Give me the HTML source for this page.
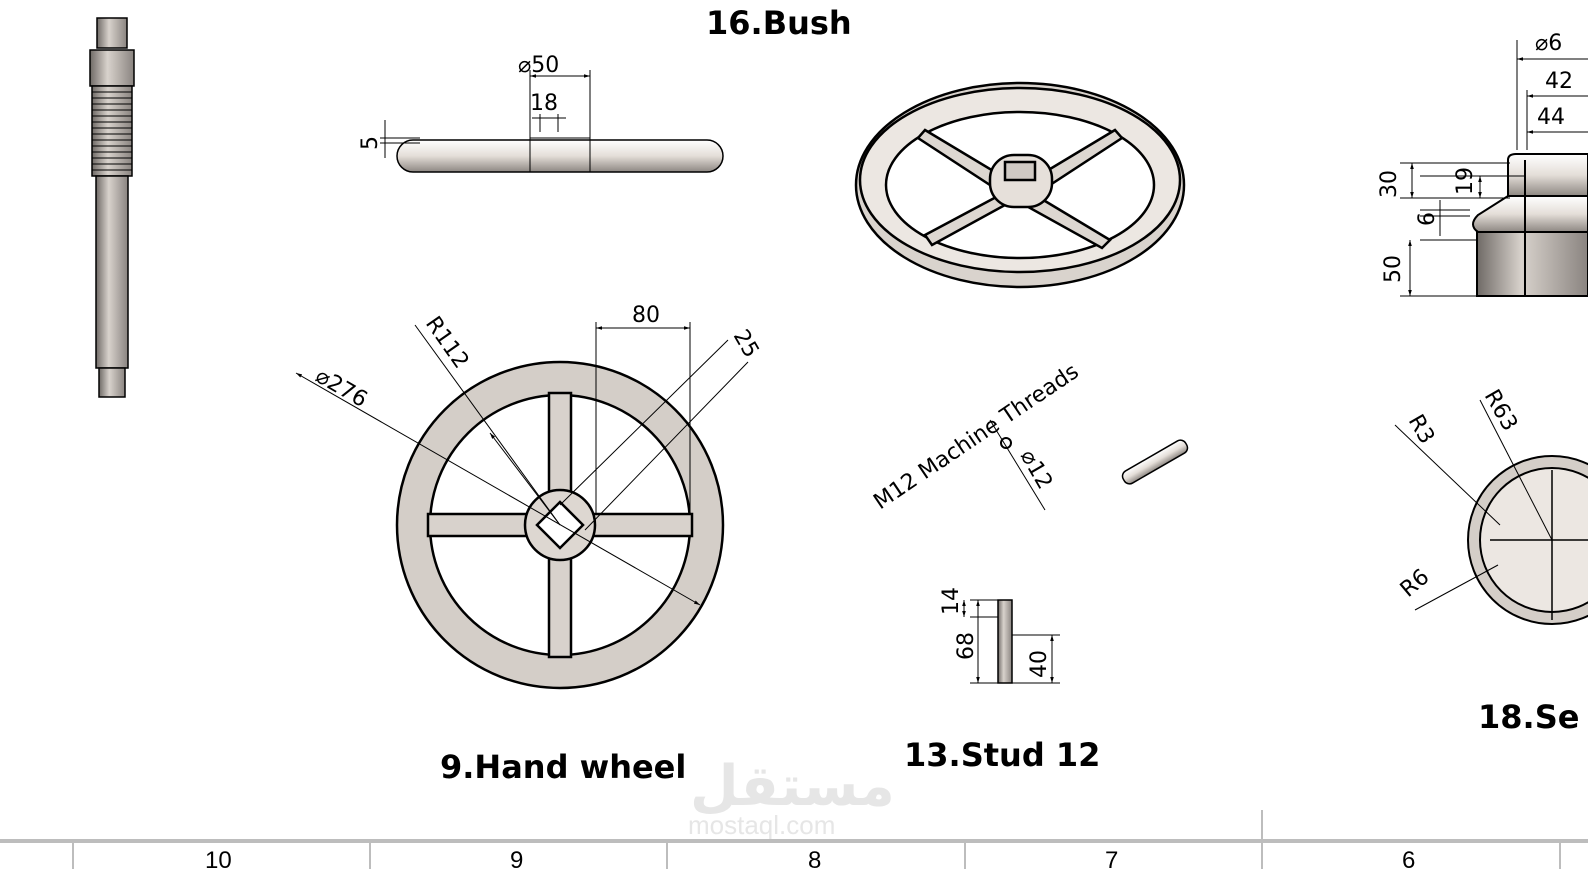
<!DOCTYPE html>
<html><head><meta charset="utf-8"><style>
html,body{margin:0;padding:0;background:#fff;overflow:hidden;width:1588px;height:869px;}
svg{display:block;position:absolute;left:0;top:0;}
.d{font-family:"DejaVu Sans","Liberation Sans",sans-serif;font-size:22px;fill:#000;}
.t{font-family:"DejaVu Sans","Liberation Sans",sans-serif;font-weight:bold;font-size:32px;fill:#000;}
</style></head><body>
<svg width="1588" height="869" viewBox="0 0 1588 869" xmlns="http://www.w3.org/2000/svg">
<defs>
<linearGradient id="gv" x1="0" x2="1" y1="0" y2="0"><stop offset="0" stop-color="#6f6a66"/><stop offset="0.4" stop-color="#d8d2cc"/><stop offset="1" stop-color="#8a8480"/></linearGradient>
<linearGradient id="gh" x1="0" x2="0" y1="0" y2="1"><stop offset="0" stop-color="#fff"/><stop offset="0.5" stop-color="#e4ded8"/><stop offset="1" stop-color="#8d8782"/></linearGradient>
<marker id="a" viewBox="0 0 10 10" refX="10" refY="5" markerWidth="10" markerHeight="6" orient="auto-start-reverse"><path d="M0,2 L10,5 L0,8z" fill="#000"/></marker>
</defs>
<g stroke="#000" stroke-width="1.5">
<rect x="97" y="18" width="30" height="30" fill="url(#gv)"/>
<rect x="90" y="50" width="44" height="36" fill="url(#gv)"/>
<rect x="92" y="86" width="40" height="90" fill="url(#gv)"/>
<g stroke-width="1">
<path d="M92 92h40M92 98h40M92 104h40M92 110h40M92 116h40M92 122h40M92 128h40M92 134h40M92 140h40M92 146h40M92 152h40M92 158h40M92 164h40M92 170h40"/></g>
<rect x="96" y="176" width="32" height="192" fill="url(#gv)"/>
<rect x="99" y="368" width="26" height="29" fill="url(#gv)"/>
<rect x="397" y="140" width="326" height="32" rx="16" fill="url(#gh)"/>
<rect x="530" y="138" width="60" height="34" fill="none" stroke-width="1"/>
</g>
<g stroke="#000" stroke-width="1" fill="none">
<line x1="530" y1="138" x2="530" y2="70"/><line x1="590" y1="138" x2="590" y2="70"/>
<line x1="530" y1="76" x2="590" y2="76" marker-start="url(#a)" marker-end="url(#a)"/>
<line x1="540" y1="114" x2="540" y2="132"/><line x1="558" y1="114" x2="558" y2="132"/>
<line x1="532" y1="118" x2="566" y2="118"/>
<line x1="380" y1="138" x2="420" y2="138"/><line x1="380" y1="143" x2="420" y2="143"/>
<line x1="385" y1="120" x2="385" y2="158"/>
</g>
<text class="d" x="518" y="72">⌀50</text>
<text class="d" x="530" y="110">18</text>
<text class="d" transform="translate(377,150) rotate(-90)">5</text>
<text class="t" x="706" y="34">16.Bush</text>

<g stroke="#000" stroke-width="2.5">
<ellipse cx="1020" cy="185" rx="164" ry="102" fill="#d9d3cd"/>
<ellipse cx="1020" cy="180" rx="160" ry="92" fill="#ece7e2"/>
<ellipse cx="1020" cy="185" rx="134" ry="73" fill="#fff"/>
<path d="M925 130 L1000 175 L990 185 L918 138z" fill="#ddd7d1"/>
<path d="M1115 130 L1040 175 L1050 185 L1122 138z" fill="#ddd7d1"/>
<path d="M925 235 L1000 195 L1005 205 L932 245z" fill="#ddd7d1"/>
<path d="M1110 240 L1040 198 L1030 208 L1102 248z" fill="#ddd7d1"/>
<rect x="990" y="155" width="62" height="52" rx="24" fill="#e6e0da"/>
<rect x="1005" y="162" width="30" height="18" fill="#cfc9c3"/>
</g>

<g stroke="#000" stroke-width="2.5">
<circle cx="560" cy="525" r="163" fill="#d4cec8"/>
<circle cx="560" cy="525" r="130" fill="#fff"/>
<rect x="428" y="514" width="264" height="22" fill="#d8d2cc"/>
<rect x="549" y="393" width="22" height="264" fill="#d8d2cc"/>
<circle cx="560" cy="525" r="35" fill="#ddd7d1"/>
<path d="M560 502 L583 525 L560 548 L537 525z" fill="#fff"/>
</g>
<g stroke="#000" stroke-width="1" fill="none">
<line x1="296" y1="373" x2="700" y2="605" marker-start="url(#a)" marker-end="url(#a)"/>
<line x1="415" y1="325" x2="560" y2="525"/><line x1="560" y1="525" x2="490" y2="433" marker-end="url(#a)"/>
<line x1="596" y1="322" x2="596" y2="514"/><line x1="690" y1="322" x2="690" y2="514"/>
<line x1="596" y1="328" x2="690" y2="328" marker-start="url(#a)" marker-end="url(#a)"/>
<line x1="560" y1="505" x2="728" y2="340"/><line x1="585" y1="530" x2="748" y2="362"/>
</g>
<text class="d" transform="translate(314,380) rotate(30)">⌀276</text>
<text class="d" transform="translate(425,323) rotate(55)">R112</text>
<text class="d" x="632" y="322">80</text>
<text class="d" transform="translate(733,335) rotate(60)">25</text>
<text class="t" x="440" y="778">9.Hand wheel</text>

<circle cx="1006" cy="443" r="5" fill="none" stroke="#000" stroke-width="2"/>
<g stroke="#000" stroke-width="1"><line x1="990" y1="420" x2="1045" y2="510"/></g>
<text class="d" transform="translate(880,510) rotate(-34)">M12 Machine Threads</text>
<text class="d" transform="translate(1020,455) rotate(60)">⌀12</text>
<g transform="translate(1155,462) rotate(-30)" stroke="#000" stroke-width="1.5">
<rect x="-36" y="-7" width="72" height="14" rx="6" fill="url(#gh)"/>
</g>

<g stroke="#000" stroke-width="1.5">
<rect x="998" y="600" width="14" height="83" fill="url(#gv)"/>
</g>
<g stroke="#000" stroke-width="1" fill="none">
<line x1="970" y1="600" x2="998" y2="600"/><line x1="970" y1="617" x2="998" y2="617"/><line x1="970" y1="683" x2="1060" y2="683"/>
<line x1="964" y1="600" x2="964" y2="617" marker-start="url(#a)" marker-end="url(#a)"/>
<line x1="978" y1="600" x2="978" y2="683" marker-start="url(#a)" marker-end="url(#a)"/>
<line x1="1012" y1="635" x2="1060" y2="635"/>
<line x1="1052" y1="635" x2="1052" y2="683" marker-start="url(#a)" marker-end="url(#a)"/>
</g>
<text class="d" transform="translate(958,615) rotate(-90)">14</text>
<text class="d" transform="translate(973,660) rotate(-90)">68</text>
<text class="d" transform="translate(1046,678) rotate(-90)">40</text>
<text class="t" x="904" y="766">13.Stud 12</text>

<g stroke="#000" stroke-width="2">
<path d="M1508 160 Q1508 154 1516 154 L1588 154 L1588 196 L1508 196z" fill="url(#gh)"/>
<path d="M1508 196 L1588 196 L1588 232 L1478 232 Q1468 225 1478 215z" fill="url(#gh)"/>
<rect x="1477" y="232" width="111" height="64" fill="url(#gv)"/>
<line x1="1525" y1="160" x2="1525" y2="296"/>
</g>
<g stroke="#000" stroke-width="1" fill="none">
<line x1="1517" y1="40" x2="1517" y2="150"/><line x1="1527" y1="90" x2="1527" y2="150"/>
<line x1="1517" y1="59" x2="1588" y2="59" marker-start="url(#a)"/>
<line x1="1527" y1="96" x2="1588" y2="96" marker-start="url(#a)"/>
<line x1="1527" y1="132" x2="1588" y2="132" marker-start="url(#a)"/>
<line x1="1400" y1="163" x2="1510" y2="163"/><line x1="1400" y1="198" x2="1510" y2="198"/>
<line x1="1420" y1="176" x2="1525" y2="176"/>
<line x1="1412" y1="163" x2="1412" y2="198" marker-start="url(#a)" marker-end="url(#a)"/>
<line x1="1480" y1="176" x2="1480" y2="198" marker-start="url(#a)" marker-end="url(#a)"/>
<line x1="1420" y1="210" x2="1470" y2="210"/><line x1="1420" y1="216" x2="1470" y2="216"/>
<line x1="1440" y1="200" x2="1440" y2="236"/>
<line x1="1420" y1="240" x2="1477" y2="240"/><line x1="1400" y1="296" x2="1477" y2="296"/>
<line x1="1410" y1="240" x2="1410" y2="296" marker-start="url(#a)" marker-end="url(#a)"/>
</g>
<text class="d" x="1535" y="50">⌀6</text>
<text class="d" x="1545" y="88">42</text>
<text class="d" x="1537" y="124">44</text>
<text class="d" transform="translate(1396,198) rotate(-90)">30</text>
<text class="d" transform="translate(1472,195) rotate(-90)">19</text>
<text class="d" transform="translate(1434,226) rotate(-90)">6</text>
<text class="d" transform="translate(1400,283) rotate(-90)">50</text>

<g stroke="#000" stroke-width="2">
<circle cx="1552" cy="540" r="84" fill="#d4cec8"/>
<circle cx="1552" cy="540" r="72" fill="#ece7e2"/>
<path d="M1490 540 H1588 M1552 470 V620" stroke-width="1.5"/>
</g>
<g stroke="#000" stroke-width="1" fill="none">
<line x1="1395" y1="425" x2="1500" y2="525"/><line x1="1480" y1="400" x2="1552" y2="540"/>
<line x1="1415" y1="610" x2="1498" y2="565"/>
</g>
<text class="d" transform="translate(1408,420) rotate(60)">R3</text>
<text class="d" transform="translate(1484,395) rotate(60)">R63</text>
<text class="d" transform="translate(1408,598) rotate(-40)">R6</text>
<text class="t" x="1478" y="728">18.Se</text>

<text x="690" y="805" font-family="DejaVu Sans,sans-serif" font-weight="bold" font-size="56" fill="#e6e6e6">مستقل</text>
<text x="688" y="834" font-family="Liberation Sans,sans-serif" font-size="26" fill="#e6e6e6">mostaql.com</text>

<g stroke="#bdbdbd">
<line x1="0" y1="841" x2="1588" y2="841" stroke-width="4"/>
<line x1="1262" y1="810" x2="1262" y2="841" stroke-width="2"/>
<g stroke-width="2"><line x1="73" y1="841" x2="73" y2="869"/><line x1="370" y1="841" x2="370" y2="869"/><line x1="667" y1="841" x2="667" y2="869"/><line x1="965" y1="841" x2="965" y2="869"/><line x1="1262" y1="841" x2="1262" y2="869"/><line x1="1560" y1="841" x2="1560" y2="869"/></g>
</g>
<g font-family="Liberation Sans,sans-serif" font-size="24" fill="#000">
<text x="205" y="868">10</text><text x="510" y="868">9</text><text x="808" y="868">8</text><text x="1105" y="868">7</text><text x="1402" y="868">6</text>
</g>
</svg>
</body></html>
